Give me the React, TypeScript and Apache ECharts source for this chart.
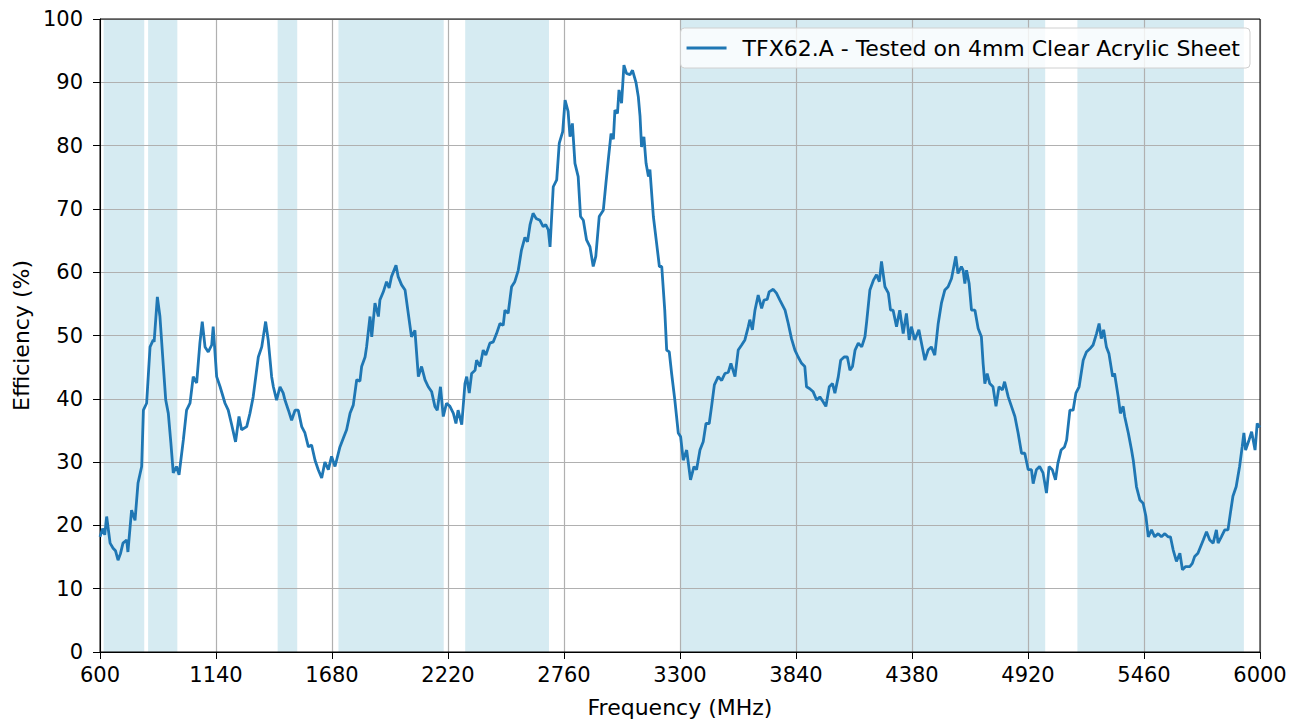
import React, { useEffect, useRef } from "react";
import * as echarts from "echarts";

const frequencies: number[] = [
  600, 612, 622, 631, 647, 661, 672, 684, 695, 707, 724, 730, 747, 763, 777, 794, 802, 817, 833, 848,
  852, 867, 879, 895, 906, 918, 930, 941, 956, 968, 988, 1003, 1019, 1034, 1050, 1065, 1076, 1089, 1104, 1120,
  1127, 1143, 1159, 1182, 1197, 1213, 1231, 1247, 1259, 1283, 1298, 1313, 1337, 1353, 1371, 1383, 1399, 1407, 1422, 1438,
  1453, 1461, 1477, 1492, 1508, 1523, 1539, 1554, 1570, 1585, 1601, 1616, 1632, 1647, 1663, 1678, 1694, 1717, 1733, 1748,
  1764, 1779, 1795, 1810, 1818, 1834, 1841, 1857, 1865, 1880, 1896, 1903, 1919, 1934, 1946, 1957, 1978, 1988, 2004, 2020,
  2035, 2050, 2066, 2082, 2097, 2113, 2128, 2144, 2159, 2170, 2185, 2198, 2213, 2229, 2245, 2257, 2267, 2284, 2299, 2307,
  2319, 2330, 2346, 2353, 2369, 2384, 2396, 2415, 2431, 2446, 2462, 2477, 2485, 2500, 2516, 2531, 2547, 2562, 2578, 2590,
  2602, 2616, 2630, 2648, 2663, 2675, 2687, 2695, 2710, 2726, 2738, 2754, 2765, 2779, 2788, 2799, 2811, 2826, 2837, 2850,
  2865, 2881, 2896, 2908, 2924, 2943, 2955, 2966, 2979, 2990, 2997, 3009, 3016, 3028, 3039, 3051, 3067, 3079, 3095, 3106,
  3114, 3121, 3132, 3142, 3153, 3160, 3176, 3191, 3204, 3215, 3229, 3238, 3250, 3261, 3276, 3292, 3303, 3315, 3331, 3349,
  3365, 3377, 3393, 3408, 3421, 3436, 3447, 3460, 3478, 3494, 3509, 3525, 3537, 3556, 3571, 3587, 3602, 3618, 3625, 3637,
  3649, 3664, 3680, 3691, 3706, 3715, 3734, 3749, 3765, 3789, 3804, 3819, 3835, 3850, 3866, 3881, 3889, 3904, 3920, 3936,
  3951, 3967, 3979, 3995, 4010, 4021, 4037, 4048, 4064, 4079, 4091, 4103, 4115, 4130, 4146, 4161, 4169, 4184, 4200, 4215,
  4228, 4238, 4254, 4270, 4280, 4292, 4308, 4323, 4339, 4354, 4367, 4377, 4393, 4412, 4424, 4440, 4455, 4470, 4486, 4502,
  4517, 4533, 4548, 4564, 4584, 4594, 4610, 4618, 4626, 4634, 4646, 4657, 4673, 4688, 4703, 4711, 4719, 4730, 4742, 4757,
  4771, 4785, 4801, 4811, 4828, 4843, 4859, 4874, 4890, 4905, 4921, 4936, 4944, 4959, 4974, 4990, 5006, 5018, 5033, 5048,
  5059, 5074, 5090, 5100, 5115, 5130, 5143, 5158, 5177, 5192, 5208, 5223, 5239, 5251, 5261, 5272, 5285, 5297, 5314, 5323,
  5340, 5350, 5363, 5370, 5387, 5402, 5410, 5425, 5441, 5456, 5469, 5480, 5495, 5510, 5526, 5541, 5557, 5572, 5583, 5596,
  5611, 5627, 5639, 5654, 5673, 5685, 5696, 5711, 5736, 5751, 5766, 5782, 5797, 5805, 5820, 5836, 5851, 5862, 5874, 5889,
  5905, 5917, 5925, 5933, 5949, 5961, 5977, 5987, 6000,
];

const efficiency: number[] = [
  18.2, 19.5, 18.5, 21.4, 17.2, 16.4, 16.0, 14.5, 15.5, 17.2, 17.7, 15.8, 22.4, 20.8, 26.7, 29.3, 38.2, 39.3, 48.2, 49.3,
  49.0, 56.1, 53.0, 45.1, 39.8, 37.7, 33.0, 28.3, 29.3, 28.0, 33.5, 38.2, 39.3, 43.5, 42.5, 48.8, 52.2, 48.2, 47.4, 48.5,
  51.4, 43.5, 41.9, 39.3, 38.2, 35.9, 33.2, 37.2, 35.1, 35.6, 37.7, 40.3, 46.6, 48.2, 52.2, 49.3, 43.5, 41.9, 39.8, 41.9,
  40.9, 39.8, 38.2, 36.6, 38.2, 38.2, 35.6, 34.6, 32.4, 32.7, 30.3, 28.8, 27.5, 30.0, 28.8, 30.9, 29.3, 32.4, 33.8, 35.1,
  37.7, 39.0, 43.0, 42.8, 45.1, 46.6, 48.2, 53.0, 49.8, 55.1, 53.0, 55.6, 56.9, 58.5, 57.5, 59.3, 61.1, 59.3, 58.0, 57.2,
  53.5, 49.8, 50.8, 43.5, 45.1, 43.0, 41.9, 41.1, 38.8, 38.2, 41.9, 37.2, 39.3, 38.8, 37.7, 36.1, 38.2, 35.9, 42.4, 43.5,
  40.9, 44.0, 44.5, 46.1, 45.1, 47.7, 46.9, 48.8, 49.0, 50.3, 51.9, 51.6, 54.0, 53.5, 57.7, 58.5, 60.3, 63.5, 65.5, 64.8,
  67.5, 69.3, 68.5, 68.2, 67.2, 67.5, 66.7, 64.0, 73.5, 74.6, 80.4, 82.2, 87.2, 85.4, 81.4, 83.5, 77.2, 75.1, 68.8, 68.2,
  65.1, 64.0, 60.9, 62.5, 68.8, 69.8, 74.0, 77.7, 81.9, 81.0, 85.6, 85.1, 88.8, 86.7, 92.7, 91.4, 91.2, 91.9, 90.0, 87.7,
  84.6, 79.8, 81.4, 77.2, 75.1, 76.2, 68.8, 64.6, 60.9, 60.9, 54.0, 47.7, 47.4, 44.0, 39.8, 34.6, 34.0, 30.3, 31.9, 27.2,
  29.3, 28.8, 31.9, 33.2, 36.1, 36.1, 38.8, 42.2, 43.5, 42.9, 44.0, 44.2, 45.6, 43.5, 47.7, 48.5, 49.3, 51.4, 52.5, 50.9,
  54.0, 56.4, 54.3, 55.6, 55.7, 56.9, 57.3, 56.7, 55.6, 54.0, 51.9, 49.5, 47.7, 46.6, 45.6, 45.1, 41.9, 41.6, 41.1, 39.8,
  40.3, 39.5, 38.8, 41.9, 42.4, 40.9, 43.5, 46.1, 46.6, 46.6, 44.5, 45.1, 47.7, 48.8, 48.2, 49.8, 52.2, 57.2, 58.7, 59.6,
  58.5, 61.7, 57.7, 56.7, 54.0, 54.0, 51.4, 54.0, 50.3, 53.5, 49.3, 51.4, 49.3, 50.9, 48.8, 46.1, 47.7, 48.2, 46.9, 51.9,
  55.1, 57.2, 57.7, 59.0, 62.5, 59.8, 60.9, 60.3, 58.2, 60.3, 58.2, 54.0, 54.0, 51.1, 49.8, 45.6, 42.4, 44.0, 42.4, 41.9,
  38.8, 41.9, 41.4, 42.7, 40.3, 38.8, 37.2, 34.6, 31.4, 31.4, 28.8, 28.8, 26.6, 28.8, 29.3, 28.3, 25.1, 29.3, 28.8, 27.2,
  29.8, 31.9, 32.4, 33.5, 38.2, 38.2, 40.9, 41.9, 46.1, 47.4, 47.9, 48.5, 50.3, 51.9, 49.5, 50.9, 48.2, 47.1, 43.5, 44.0,
  40.3, 37.7, 38.8, 37.2, 34.6, 31.9, 30.3, 26.1, 24.0, 23.5, 21.4, 18.2, 19.3, 18.2, 18.7, 18.2, 18.7, 18.2, 18.2, 16.1,
  14.3, 15.6, 13.0, 13.5, 13.5, 14.0, 15.1, 15.6, 17.7, 19.0, 17.7, 17.2, 19.3, 17.2, 18.2, 19.3, 19.3, 21.9, 24.6, 26.1,
  29.3, 32.4, 34.6, 31.9, 33.5, 34.8, 31.9, 36.1, 35.5,
];

const bandStarts: number[] = [617, 824, 1427, 1710, 2300, 3300, 5150];
const bandEnds: number[] = [806, 960, 1518, 2200, 2690, 5000, 5925];

const seriesName = "TFX62.A - Tested on 4mm Clear Acrylic Sheet";
const xTitle = "Frequency (MHz)";
const yTitle = "Efficiency (%)";

const FONT = "DejaVu Sans";
const FS = 21;
const FS_NAME = 22;

export default function App() {
  const ref = useRef<HTMLDivElement>(null);

  useEffect(() => {
    document.body.style.margin = "0";
    if (!ref.current) return;
    const chart = echarts.init(ref.current, null, { renderer: "svg" });
    const lineData = frequencies.map((f, i) => [f, efficiency[i]]);
    const bands = bandStarts.map((s, i) => [{ xAxis: s }, { xAxis: bandEnds[i] }]);

    chart.setOption({
      animation: false,
      backgroundColor: "#ffffff",
      textStyle: { fontFamily: FONT },
      grid: {
        left: 100,
        right: 42,
        top: 19,
        bottom: 72,
        show: true,
        borderColor: "#000",
        borderWidth: 1,
        backgroundColor: "transparent",
        z: 5,
      },
      legend: {
        show: true,
        right: 52,
        top: 28,
        data: [seriesName],
        icon: "path://M0,0 H40 V3 H0 Z",
        itemWidth: 42,
        itemHeight: 3,
        padding: [9, 10, 9, 6],
        borderColor: "#d0d0d0",
        borderWidth: 1,
        borderRadius: 4,
        backgroundColor: "rgba(255,255,255,0.8)",
        textStyle: { fontFamily: FONT, fontSize: FS_NAME, color: "#000", padding: [0, 0, 0, 10] },
        z: 20,
      },
      xAxis: {
        type: "value",
        min: 600,
        max: 6000,
        interval: 540,
        z: 3,
        name: xTitle,
        nameLocation: "middle",
        nameGap: 44,
        nameTextStyle: { fontFamily: FONT, fontSize: FS_NAME, color: "#000" },
        axisLine: { show: true, onZero: false, lineStyle: { color: "#000", width: 1 } },
        axisTick: { show: true, inside: false, length: 7, lineStyle: { color: "#000" } },
        axisLabel: {
          fontFamily: FONT,
          fontSize: FS,
          color: "#000",
          margin: 12,
          formatter: (v: number) => String(v),
        },
        splitLine: { show: true, lineStyle: { color: "#b0b0b0", width: 1.2 } },
      },
      yAxis: {
        type: "value",
        min: 0,
        max: 100,
        interval: 10,
        z: 3,
        name: yTitle,
        nameLocation: "middle",
        nameGap: 66,
        nameRotate: 90,
        nameTextStyle: { fontFamily: FONT, fontSize: FS_NAME, color: "#000" },
        axisLine: { show: true, lineStyle: { color: "#000", width: 1 } },
        axisTick: { show: true, inside: false, length: 7, lineStyle: { color: "#000" } },
        axisLabel: {
          fontFamily: FONT,
          fontSize: FS,
          color: "#000",
          margin: 17,
          formatter: (v: number) => String(v),
        },
        splitLine: { show: true, lineStyle: { color: "#b0b0b0", width: 1.2 } },
      },
      series: [
        {
          name: "bands",
          type: "line",
          z: 1,
          data: [],
          silent: true,
          markArea: {
            silent: true,
            itemStyle: { color: "rgba(173,216,230,0.5)" },
            data: bands,
          },
        },
        {
          name: seriesName,
          type: "line",
          z: 10,
          data: lineData,
          symbol: "none",
          showSymbol: false,
          lineStyle: { color: "#1f77b4", width: 2.8 },
          itemStyle: { color: "#1f77b4" },
        },
      ],
    });

    return () => chart.dispose();
  }, []);

  return <div ref={ref} style={{ width: 1302, height: 724 }} />;
}
